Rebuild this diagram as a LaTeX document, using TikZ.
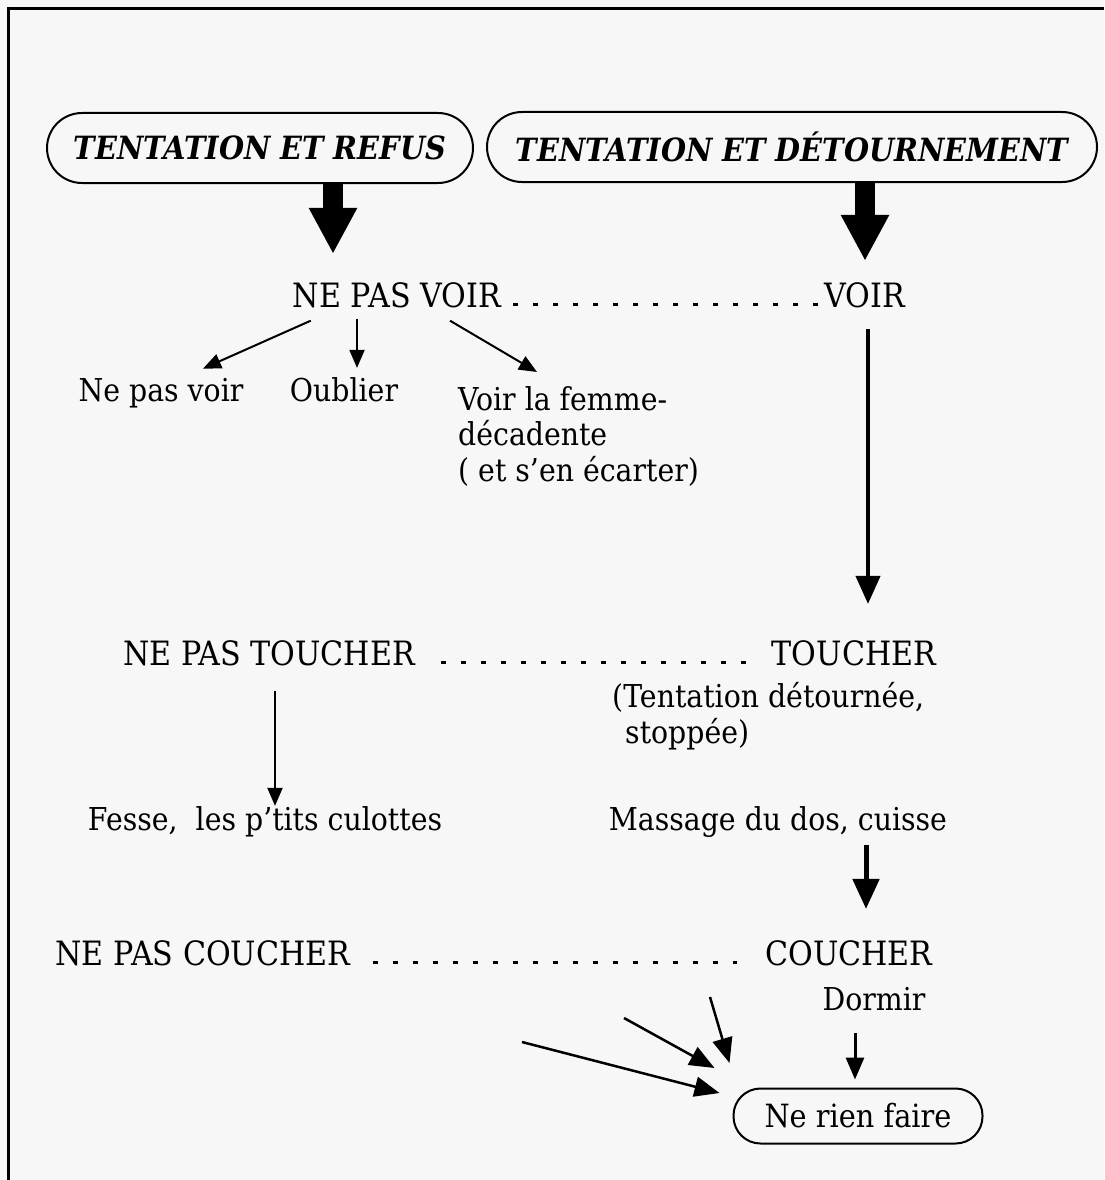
\documentclass[tikz,border=0pt]{standalone}
\usepackage{fontspec}
\setmainfont{DejaVu Serif}[FakeStretch=0.9]
\usetikzlibrary{arrows.meta,calc,positioning}
\definecolor{paper}{HTML}{F7F7F7}

\begin{document}
\begin{tikzpicture}[x=1pt,y=-1pt,
  capword/.style={font=\fontsize{33.5}{38}\selectfont, inner sep=0pt, anchor=base},
  lowword/.style={font=\fontsize{31.5}{35.5}\selectfont, inner sep=0pt, anchor=base},
  titlebox/.style={draw, line width=2pt, rounded corners=35pt, minimum height=70pt,
    font=\fontsize{32}{36}\selectfont\bfseries\itshape},
  dotrow/.style={line width=3pt, dash pattern=on 5pt off 15pt},
  bigarrow/.style={line width=20pt, -{Triangle[length=46pt,width=45pt]}},
  midarrow/.style={line width=4pt, -{Triangle[length=28pt,width=24pt]}},
  thinarrow/.style={line width=2pt, -{Triangle[length=18pt,width=15pt]}},
]
  % paper and frame
  \fill[paper] (0,0) rectangle (1104,1180);
  \useasboundingbox (0,0) rectangle (1104,1180);
  \draw[line width=3pt] (8,1180) -- (8,9) -- (1104,9);

  % titles
  \node[titlebox, minimum width=426pt](refus) at (260,148){TENTATION ET REFUS};
  \node[titlebox, minimum width=610pt](detour) at (792,147){TENTATION ET DÉTOURNEMENT};

  % voir
  \node[capword](npvoir) at (397,307){NE PAS VOIR};
  \node[capword](voir) at (865,307){VOIR};
  \node[lowword](negvoir) at (161,401){Ne pas voir};
  \node[lowword](oublier) at (344,401){Oublier};
  \node[lowword, align=left, anchor=base west](femme) at (458,481){Voir la femme-\\décadente\\( et s’en écarter)};

  % toucher
  \node[capword](nptoucher) at (269,665){NE PAS TOUCHER};
  \node[capword](toucher) at (854,665){TOUCHER};
  \node[lowword, align=left, anchor=base west](stop) at (612,743){(Tentation détournée,\\\hspace*{13pt}stoppée)};
  \node[lowword](fesse) at (265,830){Fesse,\ \ les p’tits culottes};
  \node[lowword](massage) at (778,830){Massage du dos, cuisse};

  % coucher
  \node[capword](npcoucher) at (203,965){NE PAS COUCHER};
  \node[capword](coucher) at (849,965){COUCHER};
  \node[lowword](dormir) at (874,1010){Dormir};
  \node[draw, line width=2pt, rounded corners=27pt, minimum width=249pt, minimum height=55pt,
    font=\fontsize{32}{36}\selectfont](rien) at (858,1116){Ne rien faire};

  \coordinate(in1) at (710,997);
  \coordinate(in2) at (624,1018);
  \coordinate(in3) at (522,1042);

  \draw[bigarrow] ($(refus.south)+(73,0)$) -- ($(npvoir.north)+(-64,-28)$);
  \draw[bigarrow] (detour.south -| voir) -- ($(voir.north)+(0,-21)$);
  \draw[dotrow] ($(npvoir.base east)+(12,-3)$) -- ($(voir.base west)+(-4,-3)$);
  \draw[dotrow] ($(nptoucher.base east)+(26,-3)$) -- ($(toucher.base west)+(-12,-3)$);
  \draw[dotrow] ($(npcoucher.base east)+(22,-3)$) -- ($(coucher.base west)+(-28,-3)$);

  \draw[thinarrow] ($(npvoir.south west)+(18,13)$) -- ($(negvoir.north)+(42,-9)$);
  \draw[thinarrow] ($(npvoir.south)+(-40,11)$) -- ($(oublier.north)+(13,-9)$);
  \draw[thinarrow] ($(npvoir.south)+(53,13)$) -- ($(femme.base west)+(79,-109)$);
  \draw[midarrow] ($(voir.south)+(3,21)$) -- ($(toucher.north)+(14,-36)$);
  \draw[thinarrow] ($(nptoucher.south)+(6,25)$) -- ($(fesse.north)+(10,0)$);
  \draw[line width=5pt, -{Triangle[length=30pt,width=26pt]}] ($(massage.base)+(88,15)$) -- ($(coucher.north)+(17,-31)$);
  \draw[line width=3pt, -{Triangle[length=22pt,width=18pt]}] ($(dormir.base)+(-19,23)$) -- ($(rien.north)+(-3,-8)$);
  \draw[line width=2.5pt, -{Triangle[length=25pt,width=20pt]}] (in1) -- ($(rien.west)+(-3,-53)$);
  \draw[line width=2.5pt, -{Triangle[length=25pt,width=20pt]}] (in2) -- ($(rien.west)+(-18,-48)$);
  \draw[line width=2.5pt, -{Triangle[length=25pt,width=20pt]}] (in3) -- ($(rien.west)+(-13,-23)$);
\end{tikzpicture}
\end{document}
